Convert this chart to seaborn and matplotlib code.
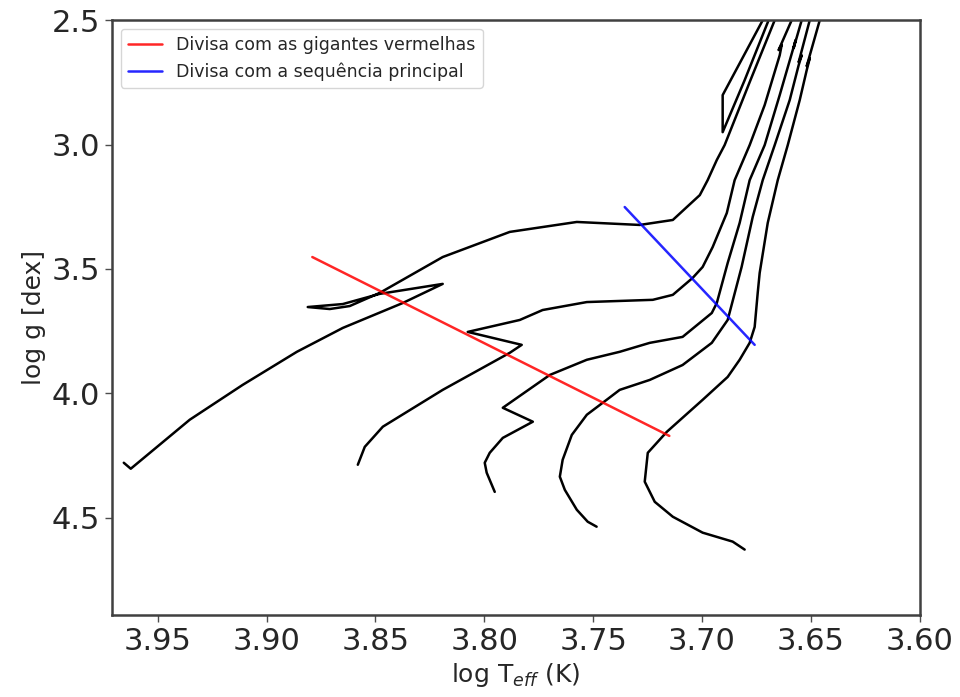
import numpy as np
import pandas as pd
import matplotlib
matplotlib.use("Agg")
import matplotlib.pyplot as plt
import seaborn as sns

# Evolutionary tracks in the log g vs log Teff plane
track_a_teff = [3.9656, 3.9624, 3.9353, 3.9110, 3.8861, 3.8650, 3.8375, 3.8191,
                3.8480, 3.8650, 3.8811, 3.8710, 3.8618, 3.8480, 3.8191, 3.7883,
                3.7575, 3.7286, 3.7134, 3.7010, 3.6974, 3.6932, 3.6896, 3.6781,
                3.6666, 3.6634, 3.6661, 3.6694, 3.6804, 3.6905, 3.6905, 3.6721,
                3.6680]
track_a_logg = [4.279, 4.303, 4.106, 3.966, 3.833, 3.737, 3.637, 3.560,
                3.600, 3.641, 3.653, 3.661, 3.649, 3.596, 3.452, 3.351,
                3.311, 3.323, 3.303, 3.203, 3.143, 3.062, 3.002, 2.749,
                2.500, 2.420, 2.420, 2.500, 2.741, 2.950, 2.801, 2.500,
                2.420]

track_b_teff = [3.8581, 3.8549, 3.8466, 3.8191, 3.7883, 3.7828, 3.8076, 3.7837,
                3.7732, 3.7529, 3.7226, 3.7134, 3.7043, 3.6997, 3.6951, 3.6886,
                3.6850, 3.6781, 3.6712, 3.6643, 3.6634, 3.6648, 3.6588, 3.6560]
track_b_logg = [4.287, 4.215, 4.134, 3.986, 3.837, 3.805, 3.753, 3.705,
                3.665, 3.633, 3.624, 3.604, 3.536, 3.492, 3.412, 3.275,
                3.143, 3.002, 2.841, 2.641, 2.600, 2.620, 2.500, 2.420]

track_c_teff = [3.7952, 3.7989, 3.7998, 3.7975, 3.7915, 3.7777, 3.7915, 3.7699,
                3.7529, 3.7378, 3.7240, 3.7089, 3.6955, 3.6932, 3.6882, 3.6827,
                3.6781, 3.6712, 3.6643, 3.6583, 3.6570, 3.6579, 3.6542, 3.6514]
track_c_logg = [4.396, 4.319, 4.279, 4.239, 4.179, 4.114, 4.058, 3.926,
                3.865, 3.833, 3.797, 3.773, 3.677, 3.637, 3.476, 3.315,
                3.143, 3.002, 2.801, 2.620, 2.580, 2.612, 2.500, 2.420]

track_d_teff = [3.7484, 3.7525, 3.7575, 3.7630, 3.7653, 3.7640, 3.7598, 3.7529,
                3.7438, 3.7378, 3.7240, 3.7089, 3.6955, 3.6882, 3.6818, 3.6767,
                3.6721, 3.6666, 3.6597, 3.6556, 3.6542, 3.6556, 3.6505, 3.6482]
track_d_logg = [4.536, 4.516, 4.468, 4.388, 4.335, 4.267, 4.167, 4.086,
                4.026, 3.986, 3.946, 3.886, 3.797, 3.705, 3.492, 3.291,
                3.143, 3.002, 2.821, 2.681, 2.641, 2.669, 2.500, 2.420]

track_e_teff = [3.6804, 3.6859, 3.6997, 3.7134, 3.7217, 3.7263, 3.7249, 3.7162,
                3.6997, 3.6882, 3.6827, 3.6781, 3.6758, 3.6744, 3.6735, 3.6698,
                3.6652, 3.6606, 3.6551, 3.6519, 3.6505, 3.6519, 3.6459, 3.6432]
track_e_logg = [4.628, 4.596, 4.560, 4.496, 4.436, 4.355, 4.239, 4.155,
                4.026, 3.934, 3.865, 3.797, 3.733, 3.596, 3.516, 3.315,
                3.143, 3.002, 2.821, 2.701, 2.653, 2.685, 2.500, 2.420]

# Boundary lines
red_giant_teff = [3.879, 3.715]
red_giant_logg = [3.452, 4.171]
main_seq_teff = [3.7355, 3.6758]
main_seq_logg = [3.251, 3.805]

x_ticks = [3.95, 3.90, 3.85, 3.80, 3.75, 3.70, 3.65, 3.60]
y_ticks = [2.5, 3.0, 3.5, 4.0, 4.5]

sns.set_style("ticks")
plt.rcParams["font.family"] = ["DejaVu Sans"]

fig = plt.figure(figsize=(9.6, 6.97), dpi=100)
ax = fig.add_axes([0.1167, 0.118, 0.8413, 0.853])

tracks = [
    (track_a_teff, track_a_logg),
    (track_b_teff, track_b_logg),
    (track_c_teff, track_c_logg),
    (track_d_teff, track_d_logg),
    (track_e_teff, track_e_logg),
]
for teff, logg in tracks:
    df = pd.DataFrame({"teff": teff, "logg": logg})
    sns.lineplot(data=df, x="teff", y="logg", sort=False, estimator=None,
                 color="black", linewidth=1.8, ax=ax)

sns.lineplot(x=red_giant_teff, y=red_giant_logg, sort=False, estimator=None,
             color="red", alpha=0.85, linewidth=1.8,
             label="Divisa com as gigantes vermelhas", ax=ax)
sns.lineplot(x=main_seq_teff, y=main_seq_logg, sort=False, estimator=None,
             color="blue", alpha=0.85, linewidth=1.8,
             label="Divisa com a sequência principal", ax=ax)

ax.set_xlim(3.971, 3.60)
ax.set_ylim(4.89, 2.5)
ax.set_xticks(x_ticks)
ax.set_xticklabels([f"{t:.2f}" for t in x_ticks])
ax.set_yticks(y_ticks)
ax.set_yticklabels([f"{t:.1f}" for t in y_ticks])
ax.tick_params(axis="both", labelsize=22, length=5, width=1, color="0.3")
for s in ax.spines.values():
    s.set_color("0.25")
    s.set_linewidth(1.8)

ax.set_xlabel("log T$_{eff}$ (K)", fontsize=18)
ax.set_ylabel("log g [dex]", fontsize=18)

ax.legend(loc="upper left", fontsize=12.5, frameon=True)

fig.savefig("out.png", dpi=100)
